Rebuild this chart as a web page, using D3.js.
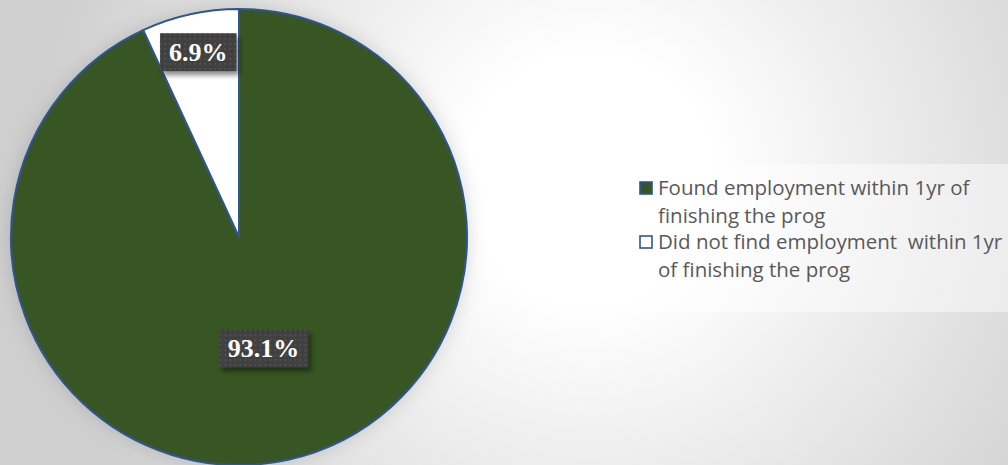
<!DOCTYPE html>
<html>
<head>
<meta charset="utf-8">
<script src="https://cdn.jsdelivr.net/npm/d3@7"></script>
<style>
  html, body { margin: 0; padding: 0; overflow: hidden; }
  #chart { width: 1008px; height: 465px; }
</style>
</head>
<body>
<div id="chart"></div>
<script>
// Employment outcome pie
(function() {
  const categories = ["Found employment within 1yr of finishing the prog", "Did not find employment  within 1yr of finishing the prog"];
  const values = [93.1, 6.9];
  const labels = ["93.1%", "6.9%"];
  const legendLines = [
    ["Found employment within 1yr of", "finishing the prog"],
    ["Did not find employment  within 1yr", "of finishing the prog"]
  ];

  const colors = ['#375623', '#ffffff'];
  const labelRadius = [0.5, 0.83];

  const width = 1008;
  const height = 465;
  const cx = 239, cy = 237, r = 228;

  const svg = d3.select('#chart')
    .append('svg')
    .attr('width', width)
    .attr('height', height);

  const defs = svg.append('defs');

  const bg = defs.append('radialGradient')
    .attr('id', 'bg')
    .attr('gradientUnits', 'userSpaceOnUse')
    .attr('cx', 590).attr('cy', 180).attr('r', 560);
  bg.append('stop').attr('offset', '0%').attr('stop-color', '#ffffff');
  bg.append('stop').attr('offset', '22%').attr('stop-color', '#ffffff');
  bg.append('stop').attr('offset', '100%').attr('stop-color', '#cfcfcf');

  const pieShadow = defs.append('filter')
    .attr('id', 'pieShadow')
    .attr('x', '-20%').attr('y', '-20%').attr('width', '140%').attr('height', '140%');
  pieShadow.append('feGaussianBlur').attr('in', 'SourceAlpha').attr('stdDeviation', 10).attr('result', 'b');
  pieShadow.append('feFlood').attr('flood-color', '#000').attr('flood-opacity', 0.16);
  pieShadow.append('feComposite').attr('in2', 'b').attr('operator', 'in');

  const boxShadow = defs.append('filter')
    .attr('id', 'boxShadow')
    .attr('x', '-30%').attr('y', '-30%').attr('width', '160%').attr('height', '160%');
  boxShadow.append('feGaussianBlur').attr('in', 'SourceAlpha').attr('stdDeviation', 2.5).attr('result', 'b');
  boxShadow.append('feOffset').attr('in', 'b').attr('dx', 3).attr('dy', 4).attr('result', 'o');
  boxShadow.append('feFlood').attr('flood-color', '#000').attr('flood-opacity', 0.45);
  boxShadow.append('feComposite').attr('in2', 'o').attr('operator', 'in').attr('result', 's');
  const merge = boxShadow.append('feMerge');
  merge.append('feMergeNode').attr('in', 's');
  merge.append('feMergeNode').attr('in', 'SourceGraphic');

  const dots = defs.append('pattern')
    .attr('id', 'dots')
    .attr('patternUnits', 'userSpaceOnUse')
    .attr('width', 5).attr('height', 5);
  dots.append('rect').attr('width', 5).attr('height', 5).attr('fill', '#404040');
  dots.append('rect').attr('x', 1).attr('y', 1).attr('width', 1.5).attr('height', 1.5).attr('fill', '#5c5c5c');

  svg.append('rect')
    .attr('width', width)
    .attr('height', height)
    .attr('fill', 'url(#bg)');

  const pie = d3.pie().sort(null).value(d => d);
  const arcs = pie(values);
  const arc = d3.arc().innerRadius(0).outerRadius(r);

  const g = svg.append('g').attr('transform', `translate(${cx},${cy})`);

  g.append('circle')
    .attr('r', r)
    .attr('fill', '#000')
    .attr('filter', 'url(#pieShadow)');

  g.selectAll('path.slice')
    .data(arcs)
    .join('path')
    .attr('class', 'slice')
    .attr('d', arc)
    .attr('fill', (d, i) => colors[i])
    .attr('stroke', '#2f5597')
    .attr('stroke-width', 2)
    .attr('stroke-linejoin', 'round');

  // data labels
  arcs.forEach((d, i) => {
    const lr = r * labelRadius[i];
    const la = d3.arc().innerRadius(lr).outerRadius(lr);
    const [x, y] = la.centroid(d);
    const lg = g.append('g').attr('transform', `translate(${x},${y})`);
    const t = lg.append('text')
      .attr('text-anchor', 'middle')
      .attr('dy', '0.35em')
      .style('font-family', '"Liberation Serif", "Times New Roman", serif')
      .style('font-weight', 'bold')
      .style('font-size', '26px')
      .attr('fill', '#ffffff')
      .text(labels[i]);
    const bb = t.node().getBBox();
    lg.insert('rect', 'text')
      .attr('x', bb.x - 9)
      .attr('y', -19)
      .attr('width', bb.width + 18)
      .attr('height', 38)
      .attr('fill', 'url(#dots)')
      .attr('filter', 'url(#boxShadow)');
  });

  // legend
  svg.append('rect')
    .attr('x', 617).attr('y', 164)
    .attr('width', width - 617).attr('height', 148)
    .attr('fill', '#ffffff')
    .attr('fill-opacity', 0.45);

  const legend = svg.append('g').attr('transform', 'translate(639,181)');
  const item = legend.selectAll('g.item')
    .data(categories)
    .join('g')
    .attr('class', 'item')
    .attr('transform', (d, i) => `translate(0,${i * 54})`);

  item.append('rect')
    .attr('x', 1).attr('y', 1)
    .attr('width', 12).attr('height', 12)
    .attr('fill', (d, i) => colors[i])
    .attr('stroke', '#2f5597')
    .attr('stroke-width', 1.6);

  item.each(function(d, i) {
    const t = d3.select(this).append('text')
      .attr('x', 19)
      .attr('y', 14)
      .style('font-family', '"Open Sans", sans-serif')
      .style('font-size', '20.5px')
      .style('white-space', 'pre')
      .attr('fill', '#595959');
    legendLines[i].forEach((line, j) => {
      t.append('tspan')
        .attr('x', 19)
        .attr('dy', j === 0 ? 0 : 28)
        .text(line);
    });
  });
})();
</script>
</body>
</html>
